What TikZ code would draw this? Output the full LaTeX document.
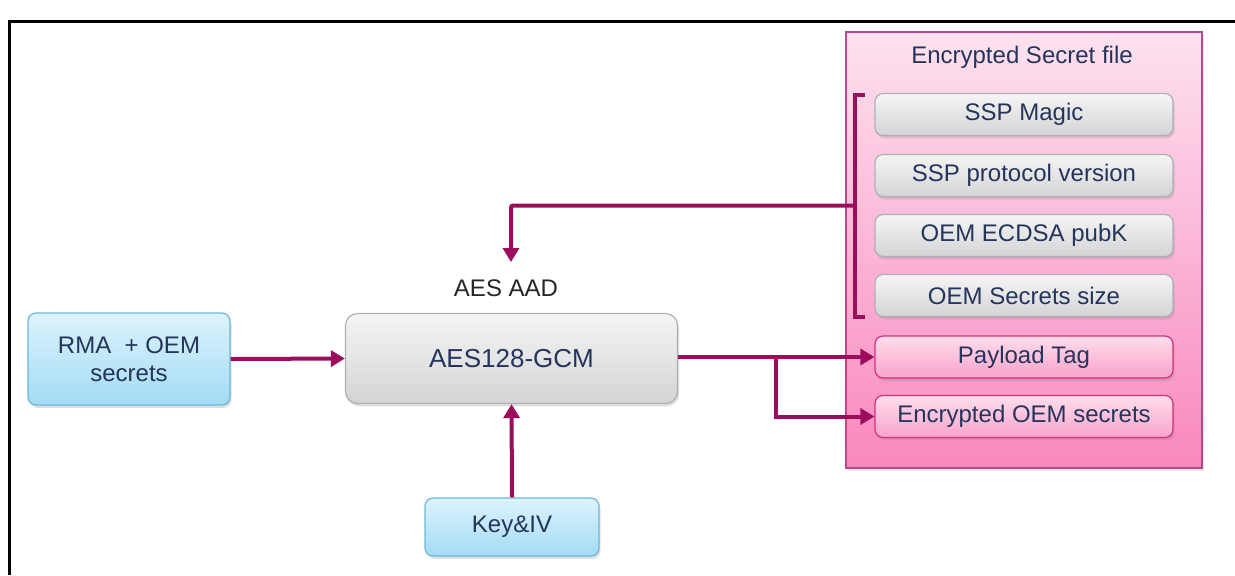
\documentclass[tikz,border=0pt]{standalone}
\usepackage{fontspec}
\setmainfont{Liberation Sans}
\usetikzlibrary{arrows.meta,shadows,calc}
\definecolor{arrowc}{HTML}{9B0E5C}
\definecolor{txtc}{HTML}{25345A}
\definecolor{grayT}{HTML}{F5F5F5}
\definecolor{grayB}{HTML}{D3D4D6}
\definecolor{grayD}{HTML}{AEB0B3}
\definecolor{pinkT}{HTML}{FFDDEC}
\definecolor{pinkB}{HTML}{F8A3CA}
\definecolor{pinkD}{HTML}{D0307E}
\definecolor{outT}{HTML}{FDE2EF}
\definecolor{outB}{HTML}{F988BD}
\definecolor{outD}{HTML}{B9498B}
\definecolor{blueT}{HTML}{DDF3FC}
\definecolor{blueB}{HTML}{A3DBF5}
\definecolor{blueD}{HTML}{6DB7D9}
\tikzset{
  boxbase/.style={rounded corners=4pt, line width=0.6pt, font=\fontsize{12}{14}\selectfont, text=txtc, align=center,
    drop shadow={opacity=0.25, shadow xshift=0.8pt, shadow yshift=-1.4pt}},
  graybox/.style={boxbase, draw=grayD, top color=grayT, bottom color=grayB},
  pinkbox/.style={boxbase, draw=pinkD, top color=pinkT, bottom color=pinkB},
  bluebox/.style={boxbase, draw=blueD, top color=blueT, bottom color=blueB},
  itembox/.style={minimum width=149pt, minimum height=21pt},
  arr/.style={draw=arrowc, line width=2pt, -{Triangle[length=7pt,width=8pt]}},
  brk/.style={draw=arrowc, line width=1.6pt},
}
\begin{document}
\begin{tikzpicture}[x=0.5pt,y=-0.5pt]
\useasboundingbox (0,0) rectangle (1235,575);
% frame
\draw[line width=1.5pt] (9,575) -- (9,21) -- (1235,21);
% outer pink container
\node[draw=outD, line width=0.8pt, top color=outT, bottom color=outB, minimum width=178pt, minimum height=218pt,
  drop shadow={opacity=0.2, shadow xshift=1pt, shadow yshift=-1.5pt}] (file) at (1024,250) {};
\node[font=\fontsize{12}{14}\selectfont, text=txtc] (ftitle) at (1022,57) {Encrypted Secret file};
% items
\node[graybox, itembox] (magic) at (1024,114.5) {SSP Magic};
\node[graybox, itembox] (proto) at (1024,175.5) {SSP protocol version};
\node[graybox, itembox] (pubk) at (1024,235.5) {OEM ECDSA pubK};
\node[graybox, itembox] (size) at (1024,295.5) {OEM Secrets size};
\node[pinkbox, itembox] (tag) at (1024,357) {Payload Tag};
\node[pinkbox, itembox] (enc) at (1024,416.5) {Encrypted OEM secrets};
% left blocks
\node[bluebox, minimum width=101pt, minimum height=46pt] (rma) at (129,359) {RMA\ \ + OEM\\secrets};
\node[graybox, minimum width=166pt, minimum height=45pt, rounded corners=6pt, font=\fontsize{13}{15}\selectfont] (aes) at (511.5,358.5) {AES128-GCM};
\node[bluebox, minimum width=87pt, minimum height=29pt] (key) at (512,527) {Key\&IV};
\node[font=\fontsize{12}{14}\selectfont, text=black!85] (aad) at (506,288) {AES AAD};
% bracket
\coordinate (bt) at (855,95);
\coordinate (bb) at (855,317);
\coordinate (bm) at (855,205.5);
\coordinate (aadtip) at (511,262);
\draw[brk] ($(bt)+(10,0)$) -- (bt) -- (bb) -- ($(bb)+(10,0)$);
\draw[arr, rounded corners=1pt] (bm) -| (aadtip);
% connectors
\draw[arr] (rma.east) -- (aes.west);
\draw[arr] (key.north) -- (aes.south);
\coordinate (split) at (776,357);
\draw[arr] (aes.east |- split) -- (tag.west);
\draw[arr] (split) |- (enc.west);
\end{tikzpicture}
\end{document}
